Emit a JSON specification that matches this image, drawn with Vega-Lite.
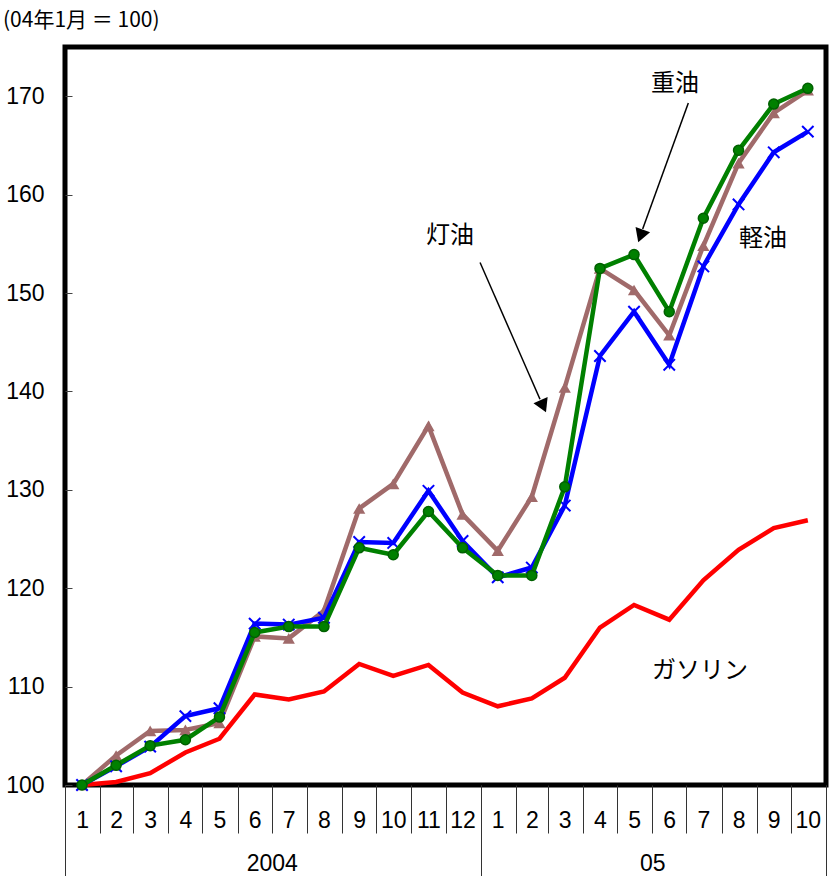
{
  "$schema": "https://vega.github.io/schema/vega-lite/v6.json",
  "width": 761,
  "height": 738,
  "autosize": {"type": "none"},
  "padding": {"left": 65, "top": 47, "right": 4, "bottom": 91},
  "background": "white",
  "view": {"stroke": "black", "strokeWidth": 5},
  "config": {"axis": {"domain": false, "grid": false}},
  "title": {
    "text": "(04年1月 ＝ 100)",
    "anchor": "start",
    "frame": "group",
    "dx": -62,
    "offset": -5,
    "font": "Noto Sans CJK JP",
    "fontSize": 21,
    "fontWeight": "normal",
    "color": "black",
    "baseline": "bottom"
  },
  "datasets": {
    "prices": [
      {"date": "2004-01-16", "gasoline": 100.0, "kerosene": 100.0, "diesel": 100.0, "heavy": 100.0},
      {"date": "2004-02-15", "gasoline": 100.3, "kerosene": 103.0, "diesel": 101.9, "heavy": 102.0},
      {"date": "2004-03-16", "gasoline": 101.2, "kerosene": 105.5, "diesel": 103.9, "heavy": 104.0},
      {"date": "2004-04-16", "gasoline": 103.3, "kerosene": 105.6, "diesel": 107.0, "heavy": 104.6},
      {"date": "2004-05-16", "gasoline": 104.7, "kerosene": 106.3, "diesel": 107.8, "heavy": 106.9},
      {"date": "2004-06-16", "gasoline": 109.2, "kerosene": 115.1, "diesel": 116.4, "heavy": 115.5},
      {"date": "2004-07-16", "gasoline": 108.7, "kerosene": 114.9, "diesel": 116.3, "heavy": 116.1},
      {"date": "2004-08-16", "gasoline": 109.5, "kerosene": 117.7, "diesel": 117.0, "heavy": 116.1},
      {"date": "2004-09-16", "gasoline": 112.3, "kerosene": 128.1, "diesel": 124.7, "heavy": 124.1},
      {"date": "2004-10-16", "gasoline": 111.1, "kerosene": 130.6, "diesel": 124.6, "heavy": 123.4},
      {"date": "2004-11-16", "gasoline": 112.2, "kerosene": 136.5, "diesel": 129.9, "heavy": 127.8},
      {"date": "2004-12-16", "gasoline": 109.4, "kerosene": 127.5, "diesel": 124.8, "heavy": 124.1},
      {"date": "2005-01-16", "gasoline": 108.0, "kerosene": 123.8, "diesel": 121.1, "heavy": 121.3},
      {"date": "2005-02-15", "gasoline": 108.8, "kerosene": 129.3, "diesel": 122.1, "heavy": 121.3},
      {"date": "2005-03-16", "gasoline": 110.9, "kerosene": 140.4, "diesel": 128.4, "heavy": 130.3},
      {"date": "2005-04-16", "gasoline": 116.0, "kerosene": 152.5, "diesel": 143.6, "heavy": 152.5},
      {"date": "2005-05-16", "gasoline": 118.3, "kerosene": 150.3, "diesel": 148.1, "heavy": 153.9},
      {"date": "2005-06-16", "gasoline": 116.8, "kerosene": 145.7, "diesel": 142.7, "heavy": 148.1},
      {"date": "2005-07-16", "gasoline": 120.8, "kerosene": 154.8, "diesel": 152.7, "heavy": 157.6},
      {"date": "2005-08-16", "gasoline": 123.9, "kerosene": 163.2, "diesel": 159.0, "heavy": 164.5},
      {"date": "2005-09-16", "gasoline": 126.1, "kerosene": 168.3, "diesel": 164.3, "heavy": 169.2},
      {"date": "2005-10-16", "gasoline": 126.9, "kerosene": 170.6, "diesel": 166.4, "heavy": 170.8}
    ],
    "notes": [
      {"label": "重油", "date": "2005-06-21T01:00:00Z", "y": 171.2},
      {"label": "灯油", "date": "2004-12-04T23:00:00Z", "y": 155.8},
      {"label": "軽油", "date": "2005-09-06T12:00:00Z", "y": 155.5},
      {"label": "ガソリン", "date": "2005-07-13T02:00:00Z", "y": 111.6}
    ],
    "arrows": [
      {"name": "灯油", "from": "2004-12-31T10:00:00Z", "y1": 153.1, "to": "2005-02-22T05:00:00Z", "y2": 139.2, "head": "2005-02-25T02:00:00Z", "hy": 138.5},
      {"name": "重油", "from": "2005-07-02T19:00:00Z", "y1": 169.3, "to": "2005-05-23T14:00:00Z", "y2": 156.5, "head": "2005-05-21T17:00:00Z", "hy": 155.8}
    ]
  },
  "layer": [
    {
      "data": {"name": "prices"},
      "mark": {"type": "line", "color": "#FF0000", "strokeWidth": 4.5},
      "encoding": {
        "x": {
          "field": "date",
          "type": "temporal",
          "scale": {"type": "utc", "nice": false, "domain": [{"year": 2004, "month": 1, "date": 1, "utc": true}, {"year": 2005, "month": 11, "date": 1, "utc": true}]},
          "axis": {
            "title": null,
            "orient": "bottom",
            "values": [
              {"year": 2004, "month": 1, "date": 16, "utc": true}, {"year": 2004, "month": 2, "date": 15, "utc": true},
              {"year": 2004, "month": 3, "date": 16, "utc": true}, {"year": 2004, "month": 4, "date": 16, "utc": true},
              {"year": 2004, "month": 5, "date": 16, "utc": true}, {"year": 2004, "month": 6, "date": 16, "utc": true},
              {"year": 2004, "month": 7, "date": 16, "utc": true}, {"year": 2004, "month": 8, "date": 16, "utc": true},
              {"year": 2004, "month": 9, "date": 16, "utc": true}, {"year": 2004, "month": 10, "date": 16, "utc": true},
              {"year": 2004, "month": 11, "date": 16, "utc": true}, {"year": 2004, "month": 12, "date": 16, "utc": true},
              {"year": 2005, "month": 1, "date": 16, "utc": true}, {"year": 2005, "month": 2, "date": 15, "utc": true},
              {"year": 2005, "month": 3, "date": 16, "utc": true}, {"year": 2005, "month": 4, "date": 16, "utc": true},
              {"year": 2005, "month": 5, "date": 16, "utc": true}, {"year": 2005, "month": 6, "date": 16, "utc": true},
              {"year": 2005, "month": 7, "date": 16, "utc": true}, {"year": 2005, "month": 8, "date": 16, "utc": true},
              {"year": 2005, "month": 9, "date": 16, "utc": true}, {"year": 2005, "month": 10, "date": 16, "utc": true}
            ],
            "ticks": false,
            "labelExpr": "utcmonth(datum.value) + 1",
            "labelAngle": 0,
            "labelFont": "Liberation Sans",
            "labelFontSize": 23,
            "labelColor": "black",
            "labelBaseline": "middle",
            "labelPadding": 35,
            "labelFlush": false,
            "labelOverlap": false
          }
        },
        "y": {
          "field": "gasoline",
          "type": "quantitative",
          "scale": {"domain": [100, 175], "nice": false, "zero": false},
          "axis": {
            "title": null,
            "orient": "left",
            "values": [100, 110, 120, 130, 140, 150, 160, 170],
            "tickSize": -7,
            "tickColor": "#444444",
            "tickWidth": 1,
            "labelPadding": 28,
            "labelFont": "Liberation Sans",
            "labelFontSize": 23,
            "labelColor": "black"
          }
        }
      }
    },
    {
      "data": {"name": "prices"},
      "mark": {"type": "line", "color": "#A06A6A", "strokeWidth": 4.5},
      "encoding": {
        "x": {"field": "date", "type": "temporal", "axis": null},
        "y": {"field": "kerosene", "type": "quantitative", "axis": null}
      }
    },
    {
      "data": {"name": "prices"},
      "mark": {"type": "point", "shape": "triangle-up", "filled": true, "color": "#A06A6A", "size": 150, "opacity": 1},
      "encoding": {
        "x": {"field": "date", "type": "temporal", "axis": null},
        "y": {"field": "kerosene", "type": "quantitative", "axis": null}
      }
    },
    {
      "data": {"name": "prices"},
      "mark": {"type": "line", "color": "#0000FF", "strokeWidth": 4.5},
      "encoding": {
        "x": {"field": "date", "type": "temporal", "axis": null},
        "y": {"field": "diesel", "type": "quantitative", "axis": null}
      }
    },
    {
      "data": {"name": "prices"},
      "mark": {"type": "point", "shape": "M-1,-1L1,1M-1,1L1,-1", "filled": false, "color": "#0000FF", "strokeWidth": 2, "size": 130, "opacity": 1},
      "encoding": {
        "x": {"field": "date", "type": "temporal", "axis": null},
        "y": {"field": "diesel", "type": "quantitative", "axis": null}
      }
    },
    {
      "data": {"name": "prices"},
      "mark": {"type": "line", "color": "#008000", "strokeWidth": 4.5},
      "encoding": {
        "x": {"field": "date", "type": "temporal", "axis": null},
        "y": {"field": "heavy", "type": "quantitative", "axis": null}
      }
    },
    {
      "data": {"name": "prices"},
      "mark": {"type": "point", "shape": "circle", "filled": true, "fill": "#008000", "stroke": "#006000", "strokeWidth": 1.5, "size": 100, "opacity": 1},
      "encoding": {
        "x": {"field": "date", "type": "temporal", "axis": null},
        "y": {"field": "heavy", "type": "quantitative", "axis": null}
      }
    },
    {
      "data": {"name": "notes"},
      "mark": {"type": "text", "font": "Noto Sans CJK JP", "fontSize": 24, "align": "center", "baseline": "middle", "color": "black"},
      "encoding": {
        "x": {
          "field": "date",
          "type": "temporal",
          "axis": {
            "title": null,
            "orient": "bottom",
            "values": [
              {"year": 2004, "month": 1, "date": 1, "utc": true}, {"year": 2004, "month": 2, "date": 1, "utc": true},
              {"year": 2004, "month": 3, "date": 1, "utc": true}, {"year": 2004, "month": 4, "date": 1, "utc": true},
              {"year": 2004, "month": 5, "date": 1, "utc": true}, {"year": 2004, "month": 6, "date": 1, "utc": true},
              {"year": 2004, "month": 7, "date": 1, "utc": true}, {"year": 2004, "month": 8, "date": 1, "utc": true},
              {"year": 2004, "month": 9, "date": 1, "utc": true}, {"year": 2004, "month": 10, "date": 1, "utc": true},
              {"year": 2004, "month": 11, "date": 1, "utc": true}, {"year": 2004, "month": 12, "date": 1, "utc": true},
              {"year": 2005, "month": 1, "date": 1, "utc": true}, {"year": 2005, "month": 2, "date": 1, "utc": true},
              {"year": 2005, "month": 3, "date": 1, "utc": true}, {"year": 2005, "month": 4, "date": 1, "utc": true},
              {"year": 2005, "month": 5, "date": 1, "utc": true}, {"year": 2005, "month": 6, "date": 1, "utc": true},
              {"year": 2005, "month": 7, "date": 1, "utc": true}, {"year": 2005, "month": 8, "date": 1, "utc": true},
              {"year": 2005, "month": 9, "date": 1, "utc": true}, {"year": 2005, "month": 10, "date": 1, "utc": true},
              {"year": 2005, "month": 11, "date": 1, "utc": true}
            ],
            "labels": false,
            "tickSize": 48,
            "tickColor": "#333333",
            "tickWidth": 1
          }
        },
        "y": {"field": "y", "type": "quantitative", "axis": null},
        "text": {"field": "label"}
      }
    },
    {
      "data": {"name": "arrows"},
      "mark": {"type": "rule", "color": "black", "strokeWidth": 1.5},
      "encoding": {
        "x": {
          "field": "from",
          "type": "temporal",
          "axis": {
            "title": null,
            "orient": "bottom",
            "values": [
              {"year": 2004, "month": 1, "date": 1, "utc": true},
              {"year": 2004, "month": 7, "date": 1, "utc": true},
              {"year": 2005, "month": 1, "date": 1, "utc": true},
              {"year": 2005, "month": 6, "date": 1, "utc": true},
              {"year": 2005, "month": 11, "date": 1, "utc": true}
            ],
            "tickSize": 91,
            "tickWidth": 1,
            "tickColor": {"condition": {"test": "utcmonth(datum.value) == 6 || utcmonth(datum.value) == 5", "value": "transparent"}, "value": "#333333"},
            "labelExpr": "utcmonth(datum.value) == 6 ? '2004' : utcmonth(datum.value) == 5 ? '05' : ''",
            "labelAngle": 0,
            "labelFont": "Liberation Sans",
            "labelFontSize": 23,
            "labelColor": "black",
            "labelBaseline": "middle",
            "labelPadding": -13,
            "labelFlush": false,
            "labelOverlap": false
          }
        },
        "y": {"field": "y1", "type": "quantitative", "axis": null},
        "x2": {"field": "to"},
        "y2": {"field": "y2"}
      }
    },
    {
      "data": {"name": "arrows"},
      "transform": [{"filter": "datum.name == '灯油'"}],
      "mark": {"type": "point", "shape": "triangle-up", "filled": true, "color": "black", "size": 240, "opacity": 1},
      "encoding": {
        "x": {"field": "head", "type": "temporal", "axis": null},
        "y": {"field": "hy", "type": "quantitative", "axis": null},
        "angle": {"value": 156}
      }
    },
    {
      "data": {"name": "arrows"},
      "transform": [{"filter": "datum.name == '重油'"}],
      "mark": {"type": "point", "shape": "triangle-up", "filled": true, "color": "black", "size": 240, "opacity": 1},
      "encoding": {
        "x": {"field": "head", "type": "temporal", "axis": null},
        "y": {"field": "hy", "type": "quantitative", "axis": null},
        "angle": {"value": 200}
      }
    }
  ],
  "resolve": {"axis": {"x": "independent", "y": "independent"}}
}
